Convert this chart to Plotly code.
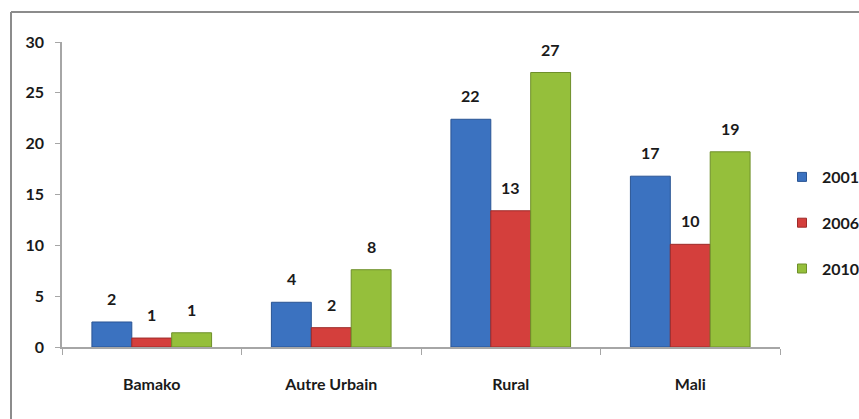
import plotly.graph_objects as go

# Categories and yearly series
regions = ["Bamako", "Autre Urbain", "Rural", "Mali"]
years = ["2001", "2006", "2010"]
values_2001 = [2.46, 4.4, 22.4, 16.8]
values_2006 = [0.88, 1.9, 13.4, 10.1]
values_2010 = [1.4, 7.6, 27.0, 19.2]
y_ticks = [0, 5, 10, 15, 20, 25, 30]

series = [values_2001, values_2006, values_2010]
fills = ["#3b72c0", "#d43f3c", "#95bf3b"]
edges = ["#2a5594", "#9e2b29", "#6e8f2a"]

W, H = 859, 419
ML, MR, MT, MB = 62, 79, 42, 72
plot_w = W - ML - MR
plot_h = H - MT - MB

FONT = "Lato, Roboto, sans-serif"
TXT = "#1a1a1a"

fig = go.Figure()
for i, (yr, vals) in enumerate(zip(years, series)):
    fig.add_trace(go.Bar(
        x=regions, y=vals, name=yr, legendgroup=yr, showlegend=False,
        marker=dict(color=fills[i], line=dict(color=edges[i], width=1)),
        hoverinfo="x+y+name",
    ))
    # compact square swatch for the legend entry
    fig.add_trace(go.Scatter(
        x=[None], y=[None], mode="markers", name=yr, legendgroup=yr,
        marker=dict(symbol="square", size=9, color=fills[i],
                    line=dict(color=edges[i], width=1)),
        hoverinfo="skip",
    ))

# value labels above each bar, rounded from the bar value
cat_px = plot_w / len(regions)
bar_px = cat_px * (1 - 1 / 3) / len(years)
for i, vals in enumerate(series):
    shift = (i - 1) * bar_px
    for reg, v in zip(regions, vals):
        fig.add_annotation(
            x=reg, y=v, text=f"{v:.0f}", showarrow=False,
            xshift=shift, yshift=12, yanchor="bottom",
            font=dict(family=FONT, size=16, color=TXT, weight="bold"),
        )

# frame around the chart area
px_to_x = lambda p: (p - ML) / plot_w
px_to_y = lambda p: (H - MB - p) / plot_h
line_style = dict(color="#8c8c8c", width=2)
fig.add_shape(type="line", xref="paper", yref="paper",
              x0=px_to_x(11), x1=px_to_x(11), y0=px_to_y(H + 5), y1=px_to_y(12), line=line_style)
fig.add_shape(type="line", xref="paper", yref="paper",
              x0=px_to_x(11), x1=px_to_x(W + 5), y0=px_to_y(12), y1=px_to_y(12), line=line_style)

fig.update_layout(
    width=W, height=H,
    margin=dict(l=ML, r=MR, t=MT, b=MB, pad=0, autoexpand=False),
    paper_bgcolor="white", plot_bgcolor="white",
    barmode="group", bargap=1 / 3, bargroupgap=0,
    font=dict(family=FONT, size=15, color=TXT, weight="bold"),
    showlegend=True,
    legend=dict(
        x=px_to_x(782), y=px_to_y(160), xanchor="left", yanchor="top",
        traceorder="grouped", tracegroupgap=22,
        font=dict(family=FONT, size=16, color=TXT, weight="bold"),
        itemwidth=30, bgcolor="rgba(0,0,0,0)",
    ),
)
fig.update_xaxes(
    showline=True, linecolor="#a6a6a6", linewidth=1.5,
    ticks="outside", tickson="boundaries", ticklen=6, tickcolor="#a6a6a6",
    ticklabelstandoff=22, showgrid=False,
    tickfont=dict(family=FONT, size=16, color=TXT, weight="bold"),
)
fig.update_yaxes(
    range=[0, 30], tickvals=y_ticks,
    showline=True, linecolor="#a6a6a6", linewidth=1.5,
    ticks="outside", ticklen=5, tickcolor="#a6a6a6", ticklabelstandoff=8,
    showgrid=False, zeroline=False,
    tickfont=dict(family=FONT, size=16, color=TXT, weight="bold"),
)

fig.write_html("out.html")
